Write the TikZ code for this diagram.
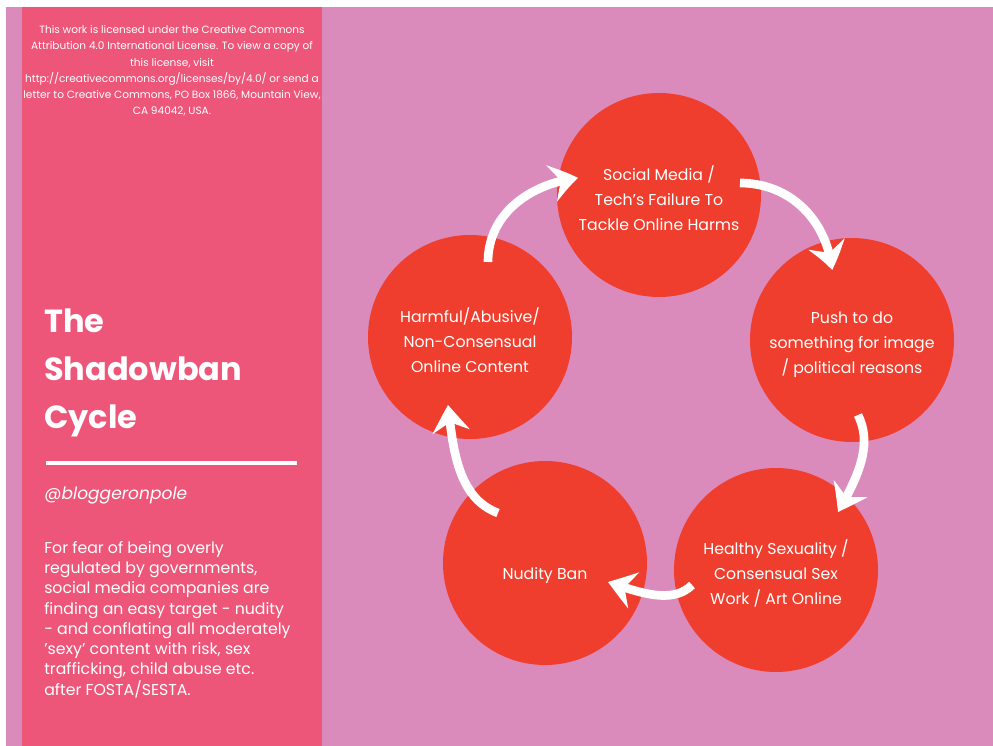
\documentclass[tikz,border=0pt]{standalone}
\usepackage{fontspec}
\setmainfont{Poppins}
\usetikzlibrary{arrows.meta,bending,calc}

\definecolor{bgpink}{HTML}{DA8BBC}
\definecolor{panelpink}{HTML}{EE5679}
\definecolor{cyclered}{HTML}{EF3E2D}

\tikzset{
  stage/.style={circle, fill=cyclered, minimum size=153pt, inner sep=0pt,
    text=white, align=center, font=\fontsize{11.8}{18.75}\selectfont,
    execute at begin node={\rule{0pt}{#1}}},
  stage/.default=53pt,
  cyc/.style={draw=white, line width=6.5pt,
    -{Stealth[length=20pt,width=28pt,inset=7pt,bend]}},
  paneltext/.style={text=white, inner sep=0pt},
}

\begin{document}
\begin{tikzpicture}[x=0.75pt,y=-0.75pt]
			%%%%% BACKGROUND %%%%%
			\useasboundingbox (0,0) rectangle (993,746);
			\fill[white] (0,0) rectangle (993,746);
			\fill[bgpink] (6,7) rectangle (993,746);
			\fill[panelpink] (22,7) rectangle (322,746);
			
			%%%%% LEFT PANEL %%%%%
			\node[paneltext, align=center, font=\fontsize{7.9}{12.2}\selectfont] (licence) at (172,71)
			  {This work is licensed under the Creative Commons\\Attribution 4.0 International License. To view a copy of\\this license, visit\\http://creativecommons.org/licenses/by/4.0/ or send a\\letter to Creative Commons, PO Box 1866, Mountain View,\\CA 94042, USA.};
			
			\node[paneltext, align=left, anchor=north west, font=\fontsize{24}{36}\bfseries\selectfont] (title) at (44,309)
			  {The\\Shadowban\\Cycle};
			\draw[white, line width=3pt] (46,463) -- (297,463);
			
			\node[paneltext, anchor=west, font=\fontsize{12.8}{16}\itshape\selectfont] (handle) at (44,495) {@bloggeronpole};
			
			\node[paneltext, align=left, anchor=north west, font=\fontsize{11.8}{15.2}\selectfont] (blurb) at (44,541)
			  {For fear of being overly\\regulated by governments,\\social media companies are\\finding an easy target - nudity\\- and conflating all moderately\\'sexy' content with risk, sex\\trafficking, child abuse etc.\\after FOSTA/SESTA.};
			
			%%%%% CYCLE %%%%%
			\node[stage] (socmed) at (659,195) {Social Media /\\Tech's Failure To\\Tackle Online Harms};
			\node[stage] (push) at (852,340) {Push to do\\something for image\\/ political reasons};
			\node[stage] (healthy) at (776,570) {Healthy Sexuality /\\Consensual Sex\\Work / Art Online};
			\node[stage=28pt] (nudity) at (545,563) {Nudity Ban};
			\node[stage] (harmful) at (470,337) {Harmful/Abusive/\\Non-Consensual\\Online Content};
			
			\draw[cyc] ($(harmful.center)+(18,-75)$) .. controls +(0,-50) and +(-45,5) .. ($(socmed.center)+(-81,-17)$);
			\draw[cyc] ($(socmed.center)+(81,-12)$) .. controls +(50,0) and +(-5,-50) .. ($(push.center)+(-20,-70)$);
			\draw[cyc] ($(push.center)+(6,75)$) .. controls +(15,30) and +(20,-35) .. ($(healthy.center)+(62,-58)$);
			\draw[cyc] ($(healthy.center)+(-84,15)$) .. controls +(-20,20) and +(30,10) .. ($(nudity.center)+(63,19)$);
			\draw[cyc] ($(nudity.center)+(-47,-50)$) .. controls +(-40,-15) and +(5,45) .. ($(harmful.center)+(-22,68)$);
\end{tikzpicture}
\end{document}
